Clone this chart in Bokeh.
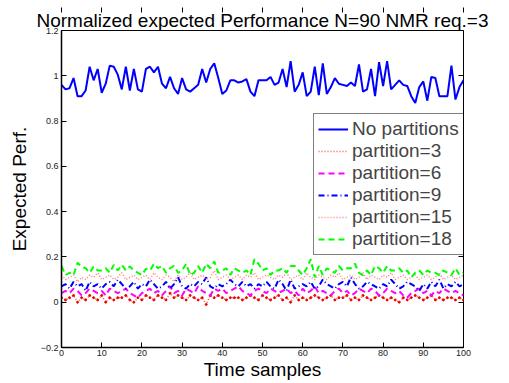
from bokeh.plotting import figure
from bokeh.models import (Range1d, LinearAxis, FixedTicker, CustomJSTickFormatter,
                          Legend, LegendItem, Title)
from bokeh.embed import file_html
from bokeh.resources import INLINE

time = list(range(0, 101))

no_partitions = [0.96,0.94,0.945,0.99,0.91,0.91,0.935,1.04,0.98,1.03,
0.925,0.965,1.045,1.04,1.005,0.94,1.04,0.935,1.03,0.94,
0.93,1.03,1.04,1.015,1.04,0.965,0.945,0.995,0.945,0.92,
0.99,0.94,0.93,0.945,0.96,1.03,0.97,1.03,1.055,0.99,
0.92,0.935,0.98,0.98,0.97,0.975,0.985,0.93,0.91,0.98,
0.98,0.98,0.995,0.96,0.97,1.03,0.95,1.065,0.93,0.96,
1.015,0.91,0.93,1.04,0.915,1.055,0.92,0.95,0.99,0.965,
0.96,0.955,0.97,0.955,1.05,0.93,0.94,1.03,0.91,1.06,
0.955,1.065,0.94,0.96,0.98,0.96,0.955,0.91,0.88,0.95,
0.975,0.89,0.995,0.99,0.91,0.91,0.91,1.045,0.895,0.95,
0.98]

partition_3 = [0.02,0.01,0.02,0.03,0.00,0.02,0.01,0.03,0.02,0.01,
0.03,0.00,0.02,0.01,0.02,0.02,0.03,0.01,0.00,0.02,
0.01,0.03,0.02,0.01,0.03,0.02,0.01,0.04,0.02,0.03,
0.02,0.01,0.03,0.02,0.01,0.02,-0.01,0.03,0.02,0.03,
0.02,0.01,0.02,0.02,0.02,0.01,0.02,0.03,0.02,0.01,
0.03,0.02,0.01,0.02,0.03,0.01,0.02,0.00,0.03,0.01,
0.02,0.01,0.02,0.03,0.02,0.01,0.02,0.03,0.01,0.02,
0.02,0.03,0.01,0.02,0.01,0.03,0.02,0.01,0.02,0.03,
0.02,0.01,0.02,0.01,0.00,0.02,0.01,0.02,0.03,0.02,
0.01,0.02,0.03,0.01,0.02,0.01,0.02,0.02,0.01,0.02,
0.01]

partition_6 = [0.04,0.05,0.04,0.06,0.05,0.03,0.04,0.06,0.05,0.04,
0.05,0.03,0.06,0.05,0.04,0.05,0.06,0.04,0.03,0.02,
0.04,0.05,0.06,0.04,0.05,0.03,0.05,0.07,0.04,0.05,
0.03,0.06,0.05,0.04,0.07,0.05,0.04,0.03,0.06,0.05,
0.06,0.04,0.05,0.06,0.07,0.05,0.04,0.03,0.05,0.06,
0.05,0.04,0.06,0.05,0.04,0.05,0.06,0.04,0.05,0.03,
0.06,0.04,0.05,0.07,0.04,0.05,0.04,0.03,0.05,0.06,
0.04,0.05,0.03,0.04,0.06,0.05,0.04,0.06,0.05,0.03,
0.04,0.06,0.05,0.04,0.05,0.03,0.02,0.04,0.05,0.06,
0.04,0.05,0.03,0.05,0.04,0.06,0.05,0.04,0.05,0.04,
0.03]

partition_9 = [0.07,0.08,0.06,0.09,0.07,0.08,0.05,0.09,0.07,0.08,
0.06,0.08,0.09,0.07,0.10,0.08,0.06,0.07,0.09,0.06,
0.08,0.07,0.10,0.08,0.06,0.07,0.09,0.06,0.08,0.11,
0.07,0.06,0.08,0.07,0.09,0.08,0.11,0.07,0.06,0.08,
0.07,0.08,0.10,0.08,0.07,0.09,0.07,0.08,0.06,0.08,
0.07,0.09,0.07,0.06,0.10,0.08,0.05,0.10,0.06,0.07,
0.08,0.07,0.09,0.06,0.07,0.10,0.08,0.07,0.06,0.08,
0.09,0.07,0.11,0.08,0.06,0.07,0.09,0.08,0.07,0.06,
0.08,0.07,0.10,0.08,0.06,0.07,0.09,0.08,0.07,0.05,
0.08,0.06,0.09,0.07,0.10,0.06,0.08,0.07,0.09,0.07,
0.08]

partition_15 = [0.12,0.10,0.11,0.12,0.09,0.11,0.10,0.12,0.11,0.13,
0.10,0.11,0.12,0.10,0.11,0.13,0.10,0.11,0.12,0.10,
0.11,0.12,0.10,0.13,0.11,0.10,0.12,0.11,0.09,0.12,
0.10,0.11,0.13,0.10,0.11,0.12,0.10,0.11,0.14,0.10,
0.11,0.12,0.10,0.11,0.12,0.10,0.12,0.11,0.13,0.10,
0.11,0.12,0.11,0.10,0.12,0.11,0.13,0.10,0.11,0.12,
0.10,0.13,0.11,0.10,0.12,0.11,0.10,0.12,0.11,0.13,
0.10,0.11,0.12,0.10,0.11,0.13,0.10,0.12,0.11,0.10,
0.12,0.11,0.13,0.10,0.11,0.12,0.10,0.11,0.12,0.10,
0.11,0.12,0.10,0.11,0.13,0.10,0.11,0.12,0.10,0.11,
0.12]

partition_18 = [0.16,0.12,0.13,0.12,0.175,0.155,0.15,0.13,0.158,0.14,
0.14,0.15,0.13,0.165,0.14,0.165,0.14,0.158,0.14,0.13,
0.12,0.148,0.14,0.17,0.15,0.16,0.13,0.15,0.16,0.13,
0.14,0.17,0.12,0.13,0.16,0.13,0.17,0.15,0.18,0.13,
0.14,0.15,0.12,0.15,0.14,0.13,0.14,0.12,0.19,0.17,
0.14,0.15,0.12,0.14,0.14,0.15,0.13,0.16,0.16,0.14,
0.12,0.15,0.19,0.11,0.16,0.12,0.15,0.14,0.13,0.16,
0.14,0.15,0.15,0.17,0.13,0.12,0.14,0.12,0.16,0.15,
0.13,0.16,0.14,0.14,0.15,0.13,0.14,0.11,0.13,0.14,
0.12,0.14,0.13,0.13,0.12,0.14,0.13,0.12,0.15,0.12,
0.13]

x_ticks = [0, 10, 20, 30, 40, 50, 60, 70, 80, 90, 100]
y_ticks = [-0.2, 0, 0.2, 0.4, 0.6, 0.8, 1.0, 1.2]

FONT = "Liberation Sans"

p = figure(width=500, height=382, output_backend="svg", toolbar_location=None,
           x_range=Range1d(0, 100), y_range=Range1d(-0.2, 1.2),
           min_border_left=61, min_border_right=37, min_border_top=30,
           min_border_bottom=35, title=None)
p.add_layout(Title(text="Normalized expected Performance N=90 NMR req.=3",
                   align="center", text_font=FONT, text_font_size="19px",
                   text_font_style="normal", text_color="black",
                   standoff=0, offset=0), "above")

p.xgrid.visible = False
p.ygrid.visible = False
p.outline_line_color = "black"
p.outline_line_width = 1
p.background_fill_color = "white"
p.border_fill_color = "white"

fmt = CustomJSTickFormatter(code="var s = tick.toFixed(1).replace(/\\.0$/, ''); return s.replace('-', '\u2212');")

xa = p.xaxis[0]
ya = p.yaxis[0]
xa.ticker = FixedTicker(ticks=x_ticks)
ya.ticker = FixedTicker(ticks=y_ticks)
ya.formatter = fmt
for ax in (xa, ya):
    ax.major_tick_in = 5
    ax.major_tick_out = 0
    ax.minor_tick_line_color = None
    ax.axis_line_color = "black"
    ax.axis_line_width = 1.5
    ax.major_label_text_font = FONT
    ax.major_label_text_font_size = "9px"
    ax.major_label_text_color = "#222222"
    ax.major_label_standoff = 3
    ax.axis_label_text_font = FONT
    ax.axis_label_text_font_style = "normal"
    ax.axis_label_text_color = "black"
    ax.axis_label_text_font_size = "19px"
xa.major_label_standoff = 2
xa.axis_label = "Time samples"
xa.axis_label_standoff = 0
ya.axis_label = "Expected Perf."
ya.axis_label_standoff = 8

right = LinearAxis(ticker=FixedTicker(ticks=y_ticks), major_tick_in=5, major_tick_out=0,
                   minor_tick_line_color=None, major_label_text_font_size="1px",
                   major_label_text_color=None, major_label_standoff=0,
                   axis_line_color=None)
top = LinearAxis(ticker=FixedTicker(ticks=x_ticks), major_tick_in=5, major_tick_out=0,
                 minor_tick_line_color=None, major_label_text_font_size="1px",
                 major_label_text_color=None, major_label_standoff=0,
                 axis_line_color=None)
p.add_layout(right, "right")
p.add_layout(top, "above")

r0 = p.line(time, no_partitions, line_color="#0000ff", line_width=2)
r3 = p.line(time, partition_3, line_color="#ff2222", line_width=1.5, line_dash="1 2",
            line_alpha=0.8)
p.scatter(time, partition_3, marker="circle", size=2, fill_color="#ee0000",
          line_color="#ee0000")
r6 = p.line(time, partition_6, line_color="#ff00ff", line_width=2, line_dash="6 4")
r9 = p.line(time, partition_9, line_color="#0000ff", line_width=2, line_dash="6 3 1 3")
r15 = p.line(time, partition_15, line_color="#ff4444", line_width=1.5, line_dash="1 2",
             line_alpha=0.7)
r18 = p.line(time, partition_18, line_color="#00ff00", line_width=2, line_dash="6 4")

legend = Legend(items=[
    LegendItem(label="No partitions", renderers=[r0]),
    LegendItem(label="partition=3", renderers=[r3]),
    LegendItem(label="partition=6", renderers=[r6]),
    LegendItem(label="partition=9", renderers=[r9]),
    LegendItem(label="partition=15", renderers=[r15]),
    LegendItem(label="partition=18", renderers=[r18]),
], location=(252, 92))
legend.label_text_font = FONT
legend.label_text_font_size = "19px"
legend.label_height = 22
legend.glyph_height = 22
legend.glyph_width = 30
legend.label_standoff = 4
legend.spacing = 0
legend.padding = 4
legend.margin = 0
legend.border_line_color = "black"
legend.border_line_width = 1
legend.background_fill_color = "white"
legend.background_fill_alpha = 1
p.add_layout(legend, "center")

open("out.html", "w").write(file_html(p, INLINE))
